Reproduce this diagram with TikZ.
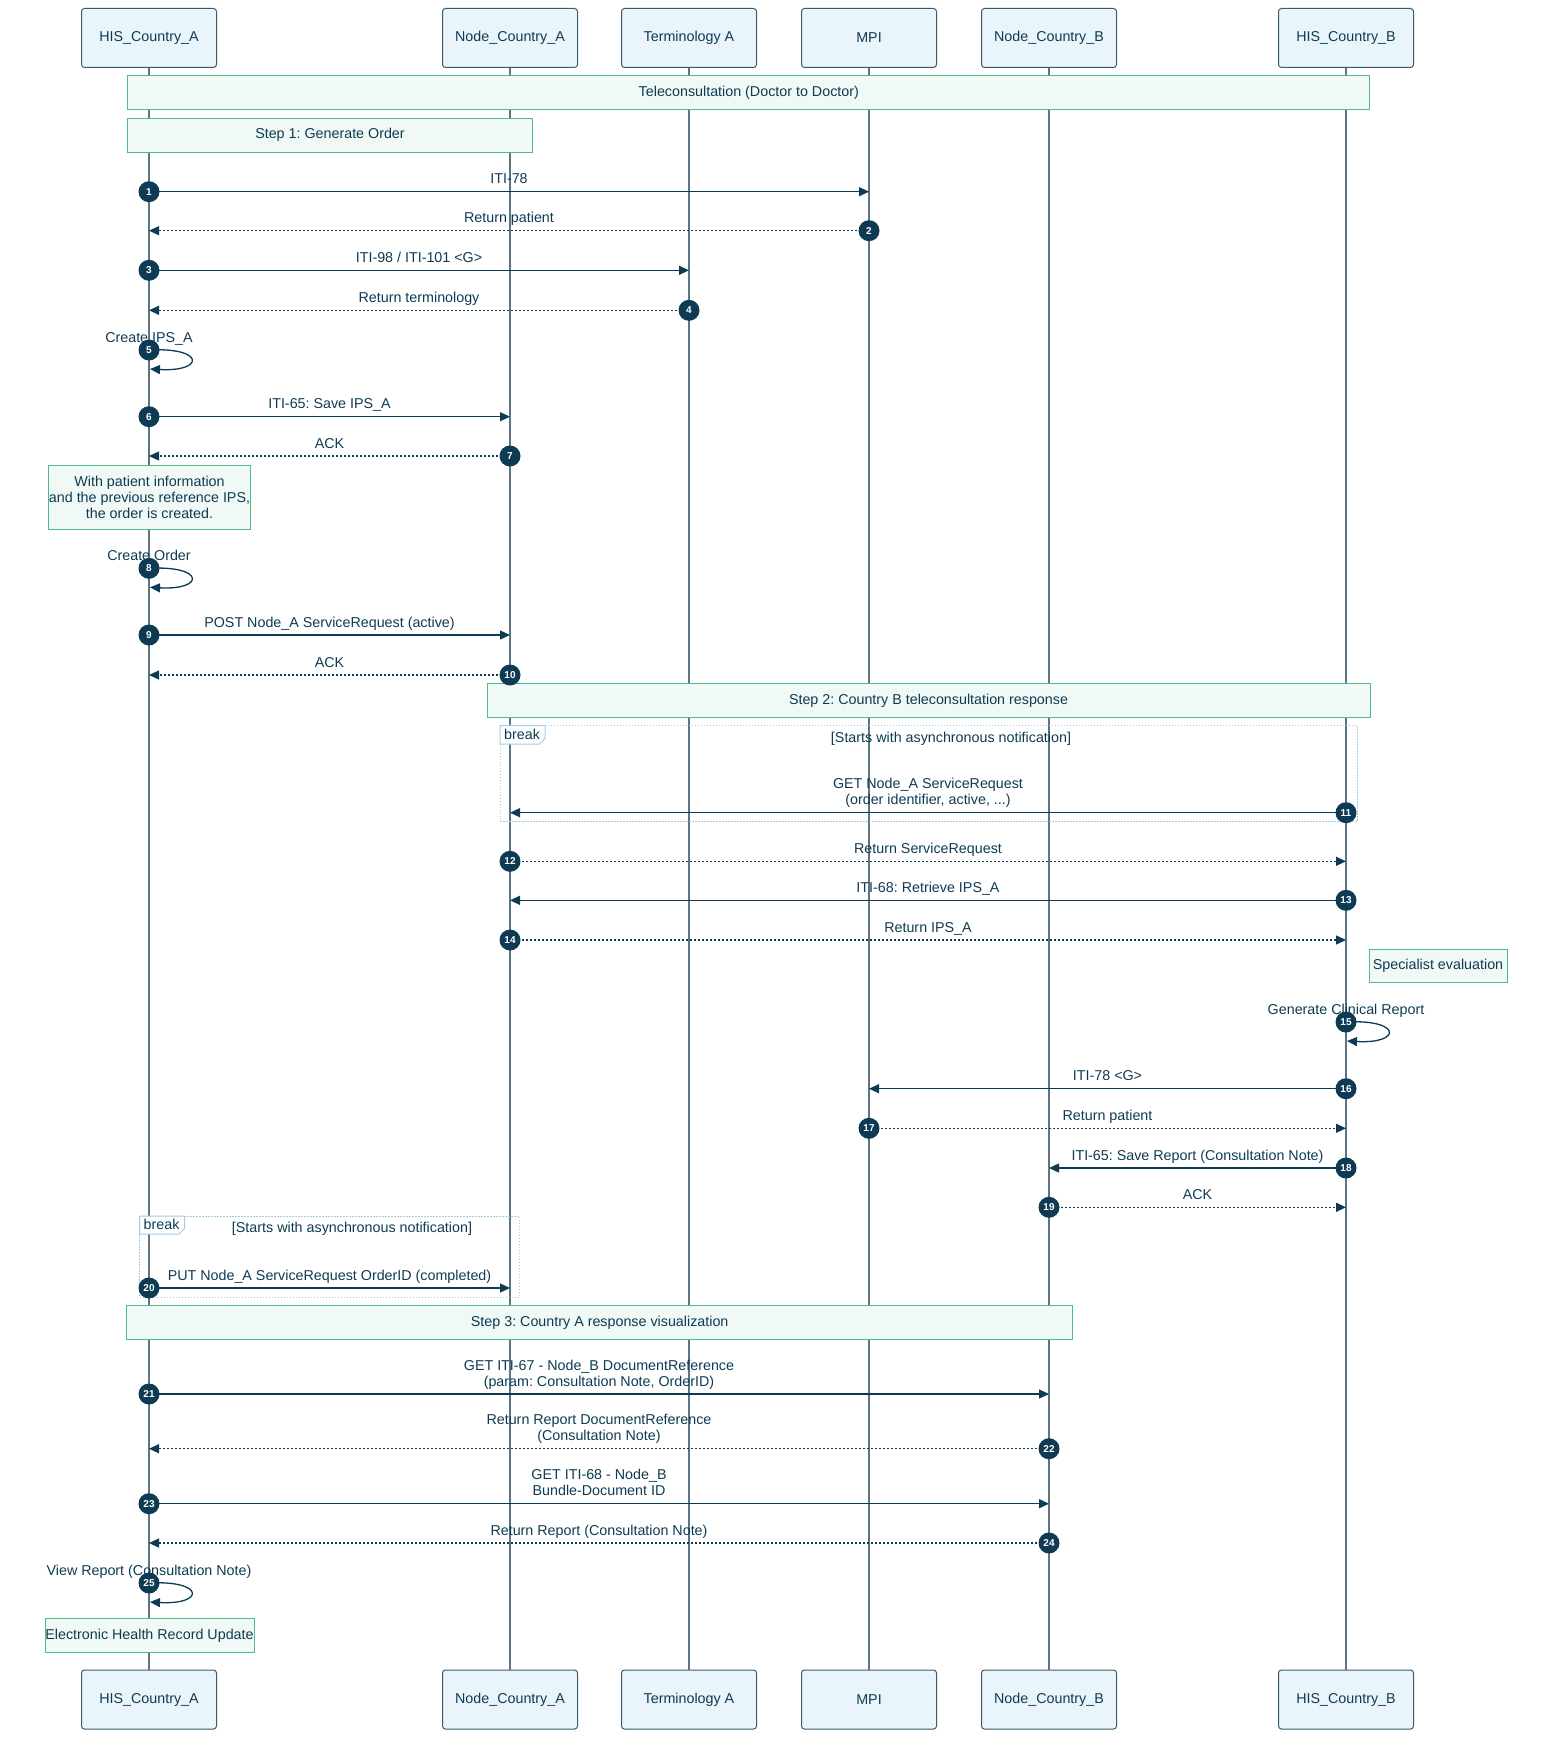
\documentclass[tikz,border=0pt]{standalone}
\usepackage{fontspec}
\setmainfont{Liberation Sans}
\usepackage{xcolor}
\usepackage{tikz}
\usetikzlibrary{arrows.meta}
\frenchspacing

\definecolor{actorfill}{HTML}{EAF5FB}
\definecolor{actorline}{HTML}{3D5A6C}
\definecolor{lifecol}{HTML}{5B7584}
\definecolor{inkcol}{HTML}{0E3B53}
\definecolor{notefill}{HTML}{F0F9F5}
\definecolor{noteline}{HTML}{4DBB8E}
\definecolor{breakcol}{HTML}{A3CCE8}

\begin{document}
\begin{tikzpicture}[x=1pt,y=-1pt,>={Triangle[length=10pt,width=9pt]},
    font=\fontsize{14.3}{16}\selectfont,text=inkcol,
    actor/.style={draw=actorline,fill=actorfill,rounded corners=3pt,line width=1pt,minimum width=135pt,minimum height=59pt},
    lifeline/.style={draw=lifecol,line width=1.3pt},
    note/.style={draw=noteline,fill=notefill,line width=1pt,align=center,inner sep=0pt},
    call/.style={->,draw=inkcol,line width=1.3pt},
    reply/.style={call,dash pattern=on 2pt off 2pt},
    lbl/.style={midway,anchor=base,yshift=8pt,inner sep=0pt},
    lbltwo/.style={lbl,align=center},
    selflbl/.style={anchor=base,yshift=8pt,inner sep=0pt},
    num/.style={circle,fill=inkcol,text=white,inner sep=0pt,minimum size=21pt,font=\fontsize{10}{10}\selectfont\bfseries},
    brk/.style={draw=breakcol,line width=1pt,dash pattern=on 1.5pt off 1.5pt},
    brktab/.style={draw=breakcol,fill=white,line width=1pt}]
  \useasboundingbox (0,0) rectangle (1568,1758);

  % participants
  \node[actor] (hisa) at (149,38) {HIS\_Country\_A};
  \node[actor] (nodea) at (510,38) {Node\_Country\_A};
  \node[actor] (terma) at (689,38) {Terminology A};
  \node[actor] (mpi) at (869,38) {MPI};
  \node[actor] (nodeb) at (1049,38) {Node\_Country\_B};
  \node[actor] (hisb) at (1346,38) {HIS\_Country\_B};
  \node[actor] (hisa2) at (149,1699.5) {HIS\_Country\_A};
  \node[actor] (nodea2) at (510,1699.5) {Node\_Country\_A};
  \node[actor] (terma2) at (689,1699.5) {Terminology A};
  \node[actor] (mpi2) at (869,1699.5) {MPI};
  \node[actor] (nodeb2) at (1049,1699.5) {Node\_Country\_B};
  \node[actor] (hisb2) at (1346,1699.5) {HIS\_Country\_B};

  \draw[lifeline] (hisa) -- (hisa2);
  \draw[lifeline] (nodea) -- (nodea2);
  \draw[lifeline] (terma) -- (terma2);
  \draw[lifeline] (mpi) -- (mpi2);
  \draw[lifeline] (nodeb) -- (nodeb2);
  \draw[lifeline] (hisb) -- (hisb2);

  % notes
  \node[note,minimum width=1242pt,minimum height=34pt] (tele) at (748.8,92.9) {Teleconsultation (Doctor to Doctor)};
  \node[note,minimum width=405pt,minimum height=34pt] (step1) at (330,135.3) {Step 1: Generate Order};
  \node[note,minimum width=198pt,minimum height=64pt] (prev) at (149.5,497) {With patient information\\and the previous reference IPS,\\the order is created.};
  \node[note,minimum width=883pt,minimum height=34pt] (step2) at (928.5,700.3) {Step 2: Country B teleconsultation response};
  \node[note,minimum width=138pt,minimum height=33pt] (spec) at (1438,966) {Specialist evaluation};
  \node[note,minimum width=946pt,minimum height=34pt] (step3) at (599.7,1322.5) {Step 3: Country A response visualization};
  \node[note,minimum width=209pt,minimum height=34pt] (ehr) at (149.5,1635.5) {Electronic Health Record Update};

  % break frames
  \draw[brk] (500,725.7) rectangle (1357,821.7);
  \draw[brktab] (500,725.7) -- (545,725.7) -- (545,738.5) -- (539.5,744) -- (500,744) -- cycle;
  \node[anchor=base west,inner sep=0pt] (brka) at (504,739.5) {break};
  \node[anchor=base,inner sep=0pt] (conda) at (951,742) {[Starts with asynchronous notification]};
  \draw[brk] (139.5,1216) rectangle (519.6,1297);
  \draw[brktab] (139.5,1216) -- (184.5,1216) -- (184.5,1228.5) -- (179,1234) -- (139.5,1234) -- cycle;
  \node[anchor=base west,inner sep=0pt] (brkb) at (143.5,1229.5) {break};
  \node[anchor=base,inner sep=0pt] (condb) at (352,1232.5) {[Starts with asynchronous notification]};

  % messages
  \coordinate (p1) at (149,191.7);
  \draw[call] (p1) -- (p1 -| mpi) node[lbl] {ITI-78};
  \node[num] (n1) at (p1) {1};
  \coordinate (p2) at (869,230.7);
  \draw[reply] (p2) -- (p2 -| hisa) node[lbl] {Return patient};
  \node[num] (n2) at (p2) {2};
  \coordinate (p3) at (149,270.3);
  \draw[call] (p3) -- (p3 -| terma) node[lbl] {ITI-98 / ITI-101 <G>};
  \node[num] (n3) at (p3) {3};
  \coordinate (p4) at (689,310.3);
  \draw[reply] (p4) -- (p4 -| hisa) node[lbl] {Return terminology};
  \node[num] (n4) at (p4) {4};
  \coordinate (p5) at (149,350);
  \draw[call] (p5) .. controls ([shift={(56,-3)}]p5) and ([shift={(56,22)}]p5) .. ([shift={(1,19)}]p5);
  \node[selflbl] (l5) at (p5) {Create IPS\_A};
  \node[num] (n5) at (p5) {5};
  \coordinate (p6) at (149,416.7);
  \draw[call] (p6) -- (p6 -| nodea) node[lbl] {ITI-65: Save IPS\_A};
  \node[num] (n6) at (p6) {6};
  \coordinate (p7) at (510,456);
  \draw[reply] (p7) -- (p7 -| hisa) node[lbl] {ACK};
  \node[num] (n7) at (p7) {7};
  \coordinate (p8) at (149,568.3);
  \draw[call] (p8) .. controls ([shift={(56,-3)}]p8) and ([shift={(56,22)}]p8) .. ([shift={(1,19)}]p8);
  \node[selflbl] (l8) at (p8) {Create Order};
  \node[num] (n8) at (p8) {8};
  \coordinate (p9) at (149,635);
  \draw[call] (p9) -- (p9 -| nodea) node[lbl] {POST Node\_A ServiceRequest (active)};
  \node[num] (n9) at (p9) {9};
  \coordinate (p10) at (510,675);
  \draw[reply] (p10) -- (p10 -| hisa) node[lbl] {ACK};
  \node[num] (n10) at (p10) {10};
  \coordinate (p11) at (1346,812.7);
  \draw[call] (p11) -- (p11 -| nodea) node[lbltwo] {GET Node\_A ServiceRequest\\(order identifier, active, ...)};
  \node[num] (n11) at (p11) {11};
  \coordinate (p12) at (510,861.3);
  \draw[reply] (p12) -- (p12 -| hisb) node[lbl] {Return ServiceRequest};
  \node[num] (n12) at (p12) {12};
  \coordinate (p13) at (1346,900.3);
  \draw[call] (p13) -- (p13 -| nodea) node[lbl] {ITI-68: Retrieve IPS\_A};
  \node[num] (n13) at (p13) {13};
  \coordinate (p14) at (510,940);
  \draw[reply] (p14) -- (p14 -| hisb) node[lbl] {Return IPS\_A};
  \node[num] (n14) at (p14) {14};
  \coordinate (p15) at (1346,1022);
  \draw[call] (p15) .. controls ([shift={(56,-3)}]p15) and ([shift={(56,22)}]p15) .. ([shift={(1,19)}]p15);
  \node[selflbl] (l15) at (p15) {Generate Clinical Report};
  \node[num] (n15) at (p15) {15};
  \coordinate (p16) at (1346,1088.7);
  \draw[call] (p16) -- (p16 -| mpi) node[lbl] {ITI-78 <G>};
  \node[num] (n16) at (p16) {16};
  \coordinate (p17) at (869,1128.3);
  \draw[reply] (p17) -- (p17 -| hisb) node[lbl] {Return patient};
  \node[num] (n17) at (p17) {17};
  \coordinate (p18) at (1346,1168);
  \draw[call] (p18) -- (p18 -| nodeb) node[lbl] {ITI-65: Save Report (Consultation Note)};
  \node[num] (n18) at (p18) {18};
  \coordinate (p19) at (1049,1207.3);
  \draw[reply] (p19) -- (p19 -| hisb) node[lbl] {ACK};
  \node[num] (n19) at (p19) {19};
  \coordinate (p20) at (149,1288);
  \draw[call] (p20) -- (p20 -| nodea) node[lbl] {PUT Node\_A ServiceRequest OrderID (completed)};
  \node[num] (n20) at (p20) {20};
  \coordinate (p21) at (149,1394);
  \draw[call] (p21) -- (p21 -| nodeb) node[lbltwo] {GET ITI-67 - Node\_B DocumentReference\\(param: Consultation Note, OrderID)};
  \node[num] (n21) at (p21) {21};
  \coordinate (p22) at (1049,1448.7);
  \draw[reply] (p22) -- (p22 -| hisa) node[lbltwo] {Return Report DocumentReference\\(Consultation Note)};
  \node[num] (n22) at (p22) {22};
  \coordinate (p23) at (149,1503.7);
  \draw[call] (p23) -- (p23 -| nodeb) node[lbltwo] {GET ITI-68 - Node\_B\\Bundle-Document ID};
  \node[num] (n23) at (p23) {23};
  \coordinate (p24) at (1049,1543);
  \draw[reply] (p24) -- (p24 -| hisa) node[lbl] {Return Report (Consultation Note)};
  \node[num] (n24) at (p24) {24};
  \coordinate (p25) at (149,1583);
  \draw[call] (p25) .. controls ([shift={(56,-3)}]p25) and ([shift={(56,22)}]p25) .. ([shift={(1,19)}]p25);
  \node[selflbl] (l25) at (p25) {View Report (Consultation Note)};
  \node[num] (n25) at (p25) {25};
\end{tikzpicture}
\end{document}
